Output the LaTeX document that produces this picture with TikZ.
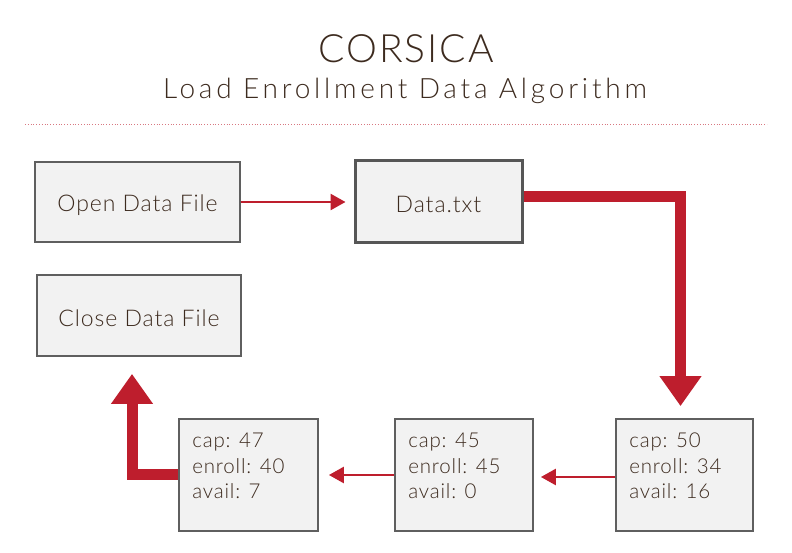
\documentclass[tikz,border=0pt]{standalone}
\usepackage{fontspec}
\setmainfont{Lato}[UprightFont=* Light, LetterSpace=4]
\newfontfamily\titlefont{Lato}[UprightFont=* Light, LetterSpace=5]
\newfontfamily\subfont{Lato}[UprightFont=* Light, LetterSpace=13.5]
\usetikzlibrary{arrows.meta}
\definecolor{crimson}{HTML}{BE1E2D}
\definecolor{boxfill}{HTML}{F2F2F2}
\definecolor{boxline}{HTML}{5F5F5F}
\definecolor{ink}{HTML}{3D2B1F}
\tikzset{
  box/.style={draw=boxline, fill=boxfill, line width=1.8pt, rectangle, inner sep=0pt, text=ink, font=\fontsize{23}{26}\selectfont},
  boxlabel/.style={text=ink, inner sep=0pt, font=\fontsize{23}{26}\selectfont},
  datatext/.style={text=ink, align=left, inner sep=0pt, anchor=north west, font=\fontsize{20.5}{25.5}\selectfont},
  thinarrow/.style={draw=crimson, line width=2.6pt, -{Triangle[length=15pt,width=16pt]}},
  thickarrow/.style={draw=crimson, line width=11pt, line join=miter, -{Triangle[length=30pt,width=40pt]}}
}
\begin{document}
\begin{tikzpicture}[x=1pt,y=-1pt]
\useasboundingbox[fill=white] (0,0) rectangle (792,553);
\node[text=ink, font=\titlefont\fontsize{39}{44}\selectfont] (title) at (406,49) {CORSICA};
\node[text=ink, font=\subfont\fontsize{28}{30}\selectfont] (sub) at (405,91) {Load Enrollment Data Algorithm};
\draw[crimson!60, line width=0.8pt, dotted] (25,124) -- (767,124);

\node[box, minimum width=205pt, minimum height=80pt] (open) at (137.5,202) {};
\node[box, minimum width=167pt, minimum height=82pt, line width=3pt, draw=boxline!90!black] (data) at (438.5,202) {};
\node[box, minimum width=204pt, minimum height=81pt] (close) at (139,315.5) {};
\node[boxlabel] (openl) at ([yshift=-3pt]open.center) {Open Data File};
\node[boxlabel] (datal) at ([yshift=-2pt]data.center) {Data.txt};
\node[boxlabel] (closel) at ([yshift=-3pt]close.center) {Close Data File};
\node[box, minimum width=139pt, minimum height=112pt] (a) at (248.5,475) {};
\node[box, minimum width=138pt, minimum height=112pt] (b) at (464,475) {};
\node[box, minimum width=137pt, minimum height=112pt] (c) at (684.5,475) {};
\node[datatext] (at) at ([shift={(14,15)}]a.north west) {cap: 47\\enroll: 40\\avail: 7};
\node[datatext] (bt) at ([shift={(14,15)}]b.north west) {cap: 45\\enroll: 45\\avail: 0};
\node[datatext] (ct) at ([shift={(14,15)}]c.north west) {cap: 50\\enroll: 34\\avail: 16};

\draw[thinarrow, shorten >=8pt] (open.east) -- (data.west);
\draw[thickarrow, shorten >=12pt] ([yshift=5pt]data.east) -| ([xshift=-4pt]c.north);
\draw[thinarrow, shorten >=7pt] ([yshift=-2pt]c.west) -- ([yshift=-2pt]b.east);
\draw[thinarrow, shorten >=10pt] (b.west) -- (a.east);
\draw[thickarrow, shorten >=17pt] ([yshift=1pt]a.west) -| ([xshift=-7pt]close.south);
\end{tikzpicture}
\end{document}
